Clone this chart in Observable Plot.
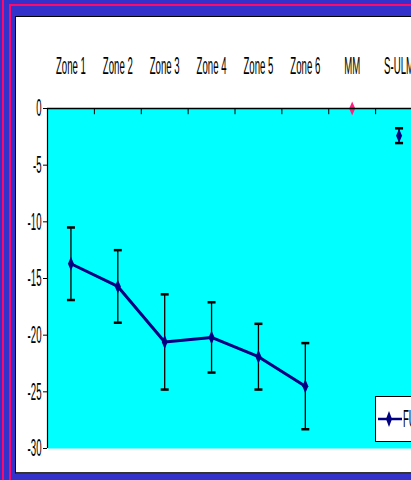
<!DOCTYPE html>
<html>
<head>
<meta charset="utf-8">
<script src="https://cdn.jsdelivr.net/npm/d3@7"></script>
<script src="https://cdn.jsdelivr.net/npm/@observablehq/plot@0.6"></script>
<style>
  html, body { margin: 0; padding: 0; }
  body { width: 411px; height: 480px; overflow: hidden; position: relative; background: #3333cc;
         font-family: "Liberation Sans", Arial, sans-serif; }
  .rim1 { position: absolute; left: 2px; top: -40px; width: 700px; height: 700px; border: 2px solid #ff0a6c; }
  .rim2 { position: absolute; left: 9px; top: 4px; width: 700px; height: 700px; border: 2px solid #ff0a6c; }
  .panel { position: absolute; left: 15px; top: 16px; width: 700px; height: 455px; background: #fff;
           border: 1px solid #000; border-bottom: 2px solid #333; }
  #chart { position: absolute; left: 0; top: 0; width: 470px; height: 472px; }
  #chart svg { max-width: none !important; }
  #legend { position: absolute; left: 375px; top: 396px; width: 80px; }
</style>
</head>
<body>
<div class="rim1"></div>
<div class="rim2"></div>
<div class="panel"></div>
<div id="chart"></div>
<div id="legend"></div>
<script>
// Categories along the top axis
const categories = ["Zone 1", "Zone 2", "Zone 3", "Zone 4", "Zone 5", "Zone 6", "MM", "S-ULM"];

// Zone series: mean and error half-width
const zoneMeans = [-13.7, -15.7, -20.6, -20.2, -21.9, -24.5];
const zoneErrors = [3.2, 3.2, 4.2, 3.1, 2.9, 3.8];

// Single-category series
const mmValue = 0;
const sulmValue = -2.4;
const sulmError = 0.65;

// Y axis ticks
const yTicks = [0, -5, -10, -15, -20, -25, -30];

const seriesName = "FULL";

const navy = "#000080";
const pink = "#ff1f80";

const zones = zoneMeans.map((m, i) => ({i, mean: m, err: zoneErrors[i]}));
const sulm = [{i: categories.indexOf("S-ULM"), mean: sulmValue, err: sulmError}];
const mm = [{i: categories.indexOf("MM"), mean: mmValue}];
const withErr = zones.concat(sulm);
const caps = withErr.flatMap(d => [{i: d.i, v: d.mean + d.err}, {i: d.i, v: d.mean - d.err}]);

const cx = d => d.i + 0.5;

// tall narrow diamond marker
const tallDiamond = {
  draw(ctx) {
    ctx.moveTo(0, -7); ctx.lineTo(3, 0); ctx.lineTo(0, 7); ctx.lineTo(-3, 0); ctx.closePath();
  }
};
// horizontal cap for error bars
const capSymbol = {
  draw(ctx) { ctx.moveTo(-4, 0); ctx.lineTo(4, 0); }
};

const chart = Plot.plot({
  width: 470,
  height: 472,
  marginLeft: 47,
  marginRight: 48,
  marginTop: 108,
  marginBottom: 24,
  style: {background: "transparent", fontFamily: "'Liberation Sans', Arial, sans-serif", fontSize: "24px", color: "#000", maxWidth: "none"},
  x: {type: "linear", domain: [0, categories.length]},
  y: {domain: [-30, 0]},
  marks: [
    Plot.frame({fill: "#00ffff", stroke: null}),
    Plot.axisY({ticks: yTicks, tickSize: 4, tickPadding: 2, tickFormat: d => String(d), stroke: "#000", fill: "#000"}),
    Plot.axisX({anchor: "top", ticks: categories.map((c, i) => i + 0.5), tickSize: 0, tickPadding: 35,
                tickFormat: v => categories[Math.floor(v)], fill: "#000"}),
    Plot.ruleX(d3.range(categories.length + 1), {y1: 0, y2: -0.55, stroke: "#000", strokeWidth: 1}),
    Plot.ruleX(withErr, {x: cx, y1: d => d.mean - d.err, y2: d => d.mean + d.err, stroke: "#000", strokeWidth: 1.3}),
    Plot.dot(caps, {x: cx, y: "v", symbol: capSymbol, fill: "none", stroke: "#000", strokeWidth: 2.5}),
    Plot.line(zones, {x: cx, y: "mean", stroke: navy, strokeWidth: 3}),
    Plot.dot(zones, {x: cx, y: "mean", symbol: tallDiamond, fill: navy, stroke: null}),
    Plot.dot(sulm, {x: cx, y: "mean", symbol: tallDiamond, fill: navy, stroke: null}),
    Plot.dot(mm, {x: cx, y: "mean", symbol: tallDiamond, fill: pink, stroke: null}),
    Plot.ruleY([0], {stroke: "#000", strokeWidth: 1.5}),
    Plot.ruleX([0], {stroke: "#000", strokeWidth: 1.2})
  ]
});
document.getElementById("chart").append(chart);

// legend box
const leg = d3.select("#legend").append("svg").attr("width", 80).attr("height", 47);
leg.append("rect").attr("x", 0.5).attr("y", 0.5).attr("width", 78).attr("height", 45)
  .attr("fill", "#fff").attr("stroke", "#000");
leg.append("line").attr("x1", 3).attr("x2", 27).attr("y1", 23).attr("y2", 23)
  .attr("stroke", navy).attr("stroke-width", 2.5);
leg.append("path").attr("d", "M14,15L17,23L14,31L11,23Z").attr("fill", navy);
leg.append("text").attr("x", 28).attr("y", 31).attr("font-size", 24)
  .attr("font-family", "'Liberation Sans', Arial, sans-serif").text(seriesName);

// narrow the lettering
function condense(root, ratio) {
  root.querySelectorAll("text").forEach(t => {
    const L = t.getComputedTextLength();
    if (L > 0) {
      t.setAttribute("textLength", (L * ratio).toFixed(1));
      t.setAttribute("lengthAdjust", "spacingAndGlyphs");
    }
  });
}
condense(chart, 0.4);
condense(document.querySelector("#legend svg"), 0.4);
</script>
</body>
</html>
